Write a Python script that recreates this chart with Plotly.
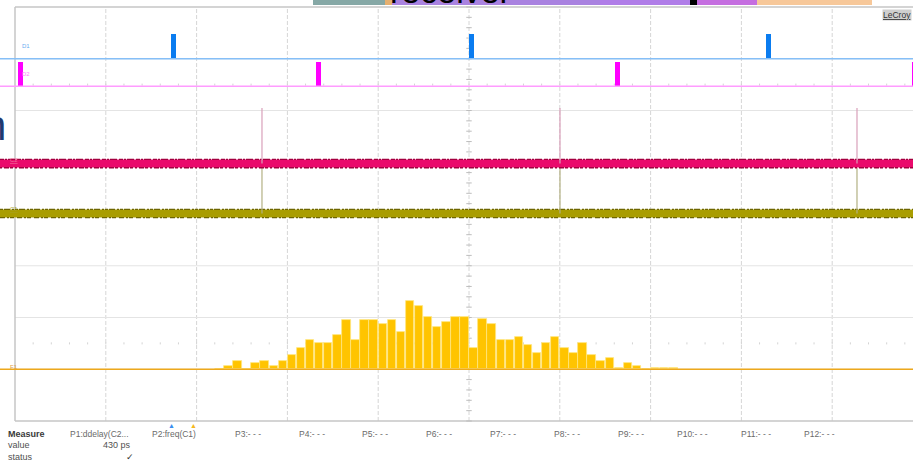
import plotly.graph_objects as go

# ---- data (time axis in screen divisions, vertical axis in divisions) ----
d1_pulses = [1.745, 5.027, 8.298]          # D1 pulse centres
d2_pulses = [0.060, 3.343, 6.635, 9.905]   # D2 pulse centres
pulse_width = 0.055
d1_level, d1_high = 7.00, 7.48
d2_level, d2_high = 6.47, 6.93

spike_times = [2.720, 6.002, 9.273]        # edges seen on C2 / C1
c2_level, c2_spike_top = 4.975, 6.05
c1_level, c1_spike_top = 4.01, 4.89

f1_level = 1.0                              # histogram baseline
hist_start, hist_width = 2.2, 0.1
hist_counts = [0.7, 3.3, 8.3, 0, 6.3, 8.3, 3.3, 8.3, 14, 21.7,
               29.3, 26.7, 26.7, 34.3, 49.3, 29.3, 49.3, 49.3, 45, 49.3,
               37.3, 68, 63.3, 52.7, 42.3, 47.7, 52.7, 52.7, 21.7, 50,
               45, 29.3, 29.3, 32.3, 24, 16.7, 26.7, 32.3, 21.7, 16.7,
               26.7, 14, 8.3, 11.3, 1, 6.3, 3.3, 0, 1, 1, 1]
hits_per_div = 51.75

measure_labels = ["P1:ddelay(C2...", "P2:freq(C1)", "P3:- - -", "P4:- - -",
                  "P5:- - -", "P6:- - -", "P7:- - -", "P8:- - -", "P9:- - -",
                  "P10:- - -", "P11:- - -", "P12:- - -"]
measure_x = [68, 150, 233, 297, 360, 424, 488, 552, 616, 675, 739, 802]

W, H = 913, 462
X0, DX = 15.0, 90.8      # left frame edge and px per division
Y0, DY = 421.0, 51.75    # bottom frame edge and px per division
xr = [(0 - X0) / DX, (W - X0) / DX]
yr = [(Y0 - H) / DY, (Y0 - 0) / DY]


def px(x):
    return x / W


def py(y):
    return 1 - y / H


fig = go.Figure()

# F1 histogram baseline and bars
fig.add_trace(go.Scatter(x=xr, y=[f1_level, f1_level], mode="lines",
                         line=dict(color="#eda81c", width=1.6), hoverinfo="skip"))
centers = [hist_start + hist_width * (k + 0.5) for k in range(len(hist_counts))]
fig.add_trace(go.Bar(x=centers, y=[c / hits_per_div for c in hist_counts],
                     base=f1_level, width=hist_width * 0.93,
                     marker=dict(color="#ffc400", line=dict(color="#ffe680", width=0.8))))


def band(level, color, edge, dash_a, dash_b, half):
    fig.add_trace(go.Scatter(x=xr, y=[level, level], mode="lines",
                             line=dict(color=color, width=8), hoverinfo="skip"))
    fig.add_trace(go.Scatter(x=xr, y=[level + half, level + half], mode="lines",
                             line=dict(color=edge, width=1.4, dash=dash_a), hoverinfo="skip"))
    fig.add_trace(go.Scatter(x=xr, y=[level - half, level - half], mode="lines",
                             line=dict(color=edge, width=1.4, dash=dash_b), hoverinfo="skip"))


def spikes(times, lo, hi, color):
    xs, ys = [], []
    for t in times:
        xs += [t, t, None]
        ys += [lo, hi, None]
    fig.add_trace(go.Scatter(x=xs, y=ys, mode="lines",
                             line=dict(color=color, width=1.2), hoverinfo="skip"))


# C1 and C2 analogue traces
band(c1_level, "#a99d00", "#6e6600", "3px,1px,6px,2px,2px,1px", "5px,2px,2px,1px,4px,3px", 0.08)
spikes(spike_times, c1_level, c1_spike_top, "#b3b184")
band(c2_level, "#ea0a6c", "#a3003f", "4px,1px,2px,1px,7px,2px", "2px,2px,5px,1px,3px,2px", 0.08)
spikes(spike_times, c2_level, c2_spike_top, "#d9a0ba")

# digital lines D1 / D2
for lvl, high, pulses, base_col, pulse_col in [
        (d1_level, d1_high, d1_pulses, "#86bff7", "#0a7cf0"),
        (d2_level, d2_high, d2_pulses, "#ff9cff", "#ff00ff")]:
    fig.add_trace(go.Scatter(x=xr, y=[lvl, lvl], mode="lines",
                             line=dict(color=base_col, width=1.6), hoverinfo="skip"))
    fig.add_trace(go.Bar(x=pulses, y=[high - lvl] * len(pulses), base=lvl,
                         width=pulse_width, marker=dict(color=pulse_col, line=dict(width=0))))

# ---- grid ----
shapes = []
grid_col = "#d6d6d6"
for i in range(1, 10):
    shapes.append(dict(type="line", x0=i, x1=i, y0=0, y1=8, layer="below",
                       line=dict(color=grid_col, width=1, dash="4px,2px")))
for j in range(1, 8):
    shapes.append(dict(type="line", x0=0, x1=xr[1], y0=j, y1=j, layer="below",
                       line=dict(color="#e4e4e4", width=1)))
for (a, b, c, d) in [(0, 0, 0, 8), (0, xr[1], 8, 8), (0, xr[1], 0, 0)]:
    shapes.append(dict(type="line", x0=a, x1=b, y0=c, y1=d, layer="below",
                       line=dict(color="#c6c6c6", width=1.5)))
# minor ticks on the centre vertical and on the dotted rows
path = ""
for k in range(0, 41):
    y = k * 0.2
    path += f"M{5 - 0.03},{y} L{5 + 0.03},{y} "
shapes.append(dict(type="path", path=path, layer="below", line=dict(color="#bdbdbd", width=1)))
path = ""
for k in range(0, 50):
    x = k * 0.2
    for yrow in (1.5, 6.5):
        path += f"M{x},{yrow - 0.02} L{x},{yrow + 0.02} "
shapes.append(dict(type="path", path=path, layer="below", line=dict(color="#d4d4d4", width=1)))

# strip of slide graphics along the top edge
for (a, b, col) in [(313, 388, "#86a8a6"), (385, 392, "#e6b070"), (392, 600, "#a982e0"),
                    (600, 690, "#b07de8"), (690, 697, "#000000"), (697, 757, "#c56ee0"),
                    (757, 872, "#f7c89a")]:
    shapes.append(dict(type="rect", xref="paper", yref="paper", x0=px(a), x1=px(b),
                       y0=py(5), y1=py(0), line=dict(width=0), fillcolor=col, layer="above"))

annos = []
font = "Liberation Sans, Arial, sans-serif"
annos.append(dict(text="receiver", x=px(388), y=py(-9), xanchor="left", yanchor="middle",
                  font=dict(family=font, size=34, color="#000")))
annos.append(dict(text="n", x=px(-19), y=py(126), xanchor="left", yanchor="middle",
                  font=dict(family=font, size=42, color="#1f3a70")))
annos.append(dict(text="<u>LeCroy</u>", x=px(882), y=py(15), xanchor="left", yanchor="middle",
                  bgcolor="#cfcfcf", borderpad=0,
                  font=dict(family=font, size=8.5, color="#333")))
for t, x, y, col in [("D1", 20, 46, "#6aaef0"), ("D2", 20, 74, "#ff80ff"),
                     ("<u>C2</u>", 8, 160, "#f06a9a"), ("<u>C1</u>", 8, 209, "#a8a020"),
                     ("F1", 8, 367, "#e0a040")]:
    annos.append(dict(text=t, x=px(x), y=py(y), xanchor="left", yanchor="middle",
                      font=dict(family=font, size=6, color=col)))

annos.append(dict(text="<b>Measure</b>", x=px(6), y=py(434), xanchor="left", yanchor="middle",
                  font=dict(family=font, size=9, color="#3a3a3a")))
annos.append(dict(text="value", x=px(6), y=py(445), xanchor="left", yanchor="middle",
                  font=dict(family=font, size=9, color="#505050")))
annos.append(dict(text="status", x=px(6), y=py(457), xanchor="left", yanchor="middle",
                  font=dict(family=font, size=9, color="#505050")))
annos.append(dict(text="430 ps", x=px(133), y=py(445), xanchor="right", yanchor="middle",
                  font=dict(family=font, size=9, color="#505050")))
annos.append(dict(text="✓", x=px(130), y=py(457), xanchor="center", yanchor="middle",
                  font=dict(family=font, size=9, color="#303030")))
for t, x in zip(measure_labels, measure_x):
    annos.append(dict(text=t, x=px(x), y=py(434), xanchor="left", yanchor="middle",
                      font=dict(family=font, size=8.5, color="#6a6a6a")))
annos.append(dict(text="▲", x=px(171), y=py(425), xanchor="center", yanchor="middle",
                  font=dict(family=font, size=7, color="#3a8ef0")))
annos.append(dict(text="▲", x=px(193), y=py(425), xanchor="center", yanchor="middle",
                  font=dict(family=font, size=7, color="#f5b820")))
for a in annos:
    a.update(xref="paper", yref="paper", showarrow=False)

fig.update_layout(width=W, height=H, margin=dict(l=0, r=0, t=0, b=0),
                  paper_bgcolor="white", plot_bgcolor="white", showlegend=False,
                  barmode="overlay", bargap=0,
                  xaxis=dict(range=xr, visible=False, fixedrange=True),
                  yaxis=dict(range=yr, visible=False, fixedrange=True),
                  shapes=shapes, annotations=annos)
fig.write_html("out.html")
